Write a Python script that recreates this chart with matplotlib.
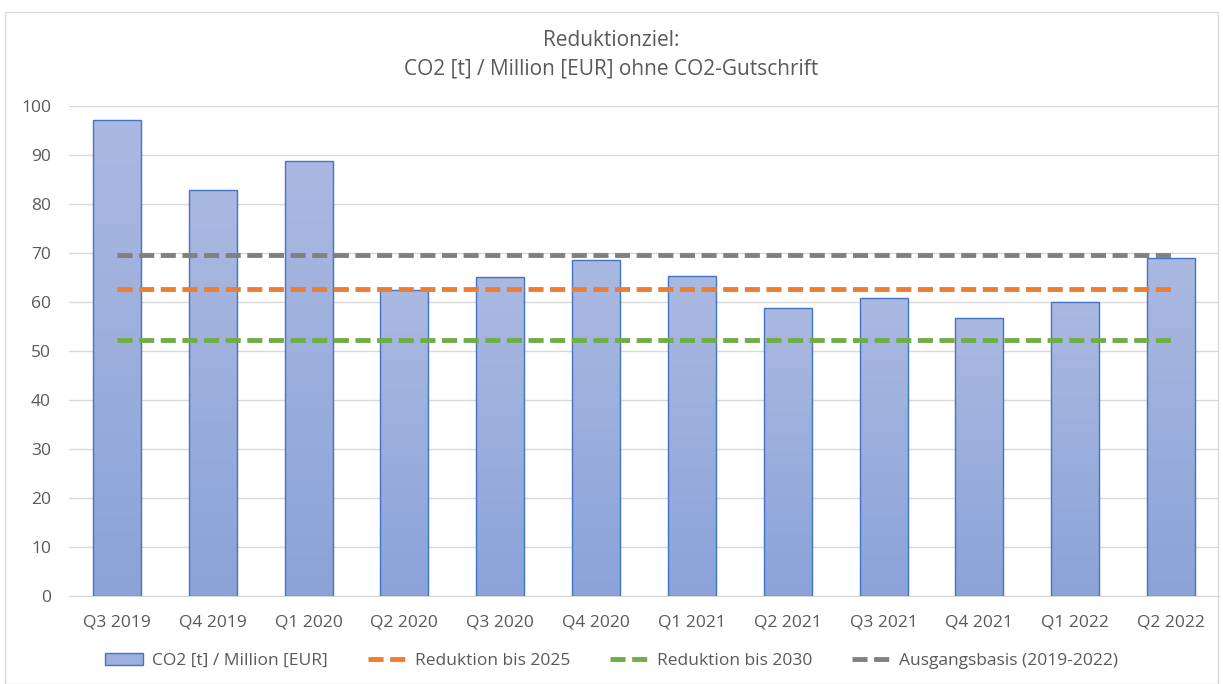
import matplotlib
matplotlib.use("Agg")
import matplotlib.pyplot as plt
import numpy as np
from matplotlib.patches import Rectangle
from matplotlib.colors import LinearSegmentedColormap
from matplotlib.lines import Line2D

categories = ["Q3 2019", "Q4 2019", "Q1 2020", "Q2 2020", "Q3 2020", "Q4 2020",
              "Q1 2021", "Q2 2021", "Q3 2021", "Q4 2021", "Q1 2022", "Q2 2022"]
co2_values = [97.1, 82.8, 88.8, 62.4, 65.1, 68.6, 65.3, 58.8, 60.8, 56.7, 60.0, 69.0]
reduktion_2025 = [62.7] * 12
reduktion_2030 = [52.2] * 12
ausgangsbasis = [69.6] * 12

series_labels = ["CO2 [t] / Million [EUR]", "Reduktion bis 2025",
                 "Reduktion bis 2030", "Ausgangsbasis (2019-2022)"]
title_lines = ["Reduktionziel:", "CO2 [t] / Million [EUR] ohne CO2-Gutschrift"]

plt.rcParams['font.family'] = ['Open Sans', 'DejaVu Sans']
txt = "#595959"

W, H = 1223, 684
fig = plt.figure(figsize=(W / 100, H / 100), dpi=100)
ax = fig.add_axes([69 / W, 1 - 596 / H, (1219 - 69) / W, (596 - 106) / H])

x = np.arange(len(categories))
bars = ax.bar(x, co2_values, width=0.5, color="none", edgecolor="#4472C4",
              linewidth=1.0, zorder=3)
cmap = LinearSegmentedColormap.from_list("g", ["#8CA3D8", "#AAB9E1"])
grad = np.linspace(0, 1, 256).reshape(-1, 1)
for b in bars:
    x0, w, h = b.get_x(), b.get_width(), b.get_height()
    im = ax.imshow(grad, cmap=cmap, origin="lower", aspect="auto",
                   extent=[x0, x0 + w, 0, h], zorder=2)
    im.set_clip_path(b)

dash = (3.1, 1.35)
ax.plot(x, ausgangsbasis, color="#808080", lw=3.5, dashes=dash, zorder=4)
ax.plot(x, reduktion_2025, color="#ED7D31", lw=3.5, dashes=dash, zorder=4)
ax.plot(x, reduktion_2030, color="#70AD47", lw=3.5, dashes=dash, zorder=4)

ax.set_xlim(-0.5, len(categories) - 0.5)
ax.set_ylim(0, 100)
ax.set_yticks(np.arange(0, 101, 10))
ax.grid(axis="y", color="#D9D9D9", lw=1, zorder=0)
ax.set_axisbelow(True)
for s in ["top", "right", "left"]:
    ax.spines[s].set_visible(False)
ax.spines["bottom"].set_color("#D9D9D9")
ax.set_xticks(x)
ax.set_xticklabels(categories)
ax.tick_params(axis="both", length=0, labelsize=12.5, labelcolor=txt)
ax.tick_params(axis="x", pad=13)
ax.tick_params(axis="y", pad=13)

fig.text(0.5, 1 - 41 / H, title_lines[0], ha="center", va="center",
         fontsize=15, color=txt)
fig.text(0.5, 1 - 69 / H, title_lines[1], ha="center", va="center",
         fontsize=15, color=txt)

handles = [Rectangle((0, 0), 1, 1, facecolor="#9DB0DD", edgecolor="#4472C4"),
           Line2D([], [], color="#ED7D31", lw=3.5, dashes=dash),
           Line2D([], [], color="#70AD47", lw=3.5, dashes=dash),
           Line2D([], [], color="#808080", lw=3.5, dashes=dash)]
fig.legend(handles, series_labels, loc="center", bbox_to_anchor=(0.5, 1 - 661 / H),
           ncol=4, frameon=False, fontsize=12.5, labelcolor=txt,
           handlelength=2.2, handletextpad=0.5, columnspacing=2.3,
           borderpad=0, borderaxespad=0)

fig.patches.append(Rectangle((5 / W, 0), (1218 - 5) / W, 1 - 12 / H,
                             transform=fig.transFigure, fill=False,
                             edgecolor="#D9D9D9", lw=1))

fig.savefig("out.png", dpi=100)
